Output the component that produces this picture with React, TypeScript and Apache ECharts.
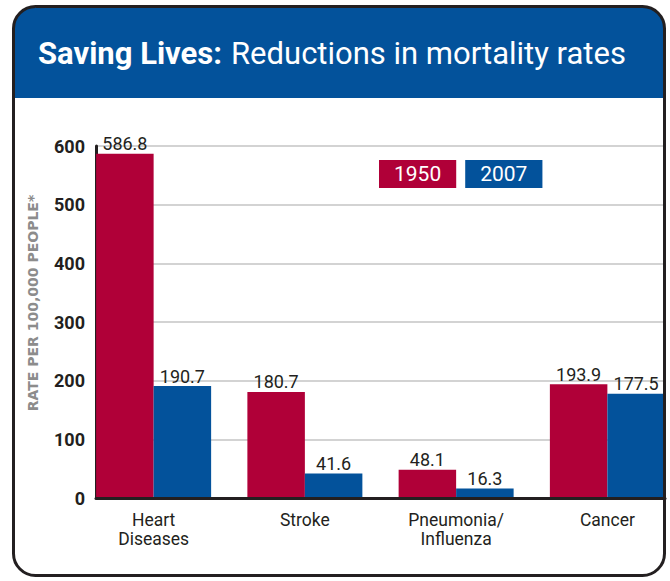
import React, { useEffect, useRef } from "react";
import * as echarts from "echarts";

const categories = ["Heart\nDiseases", "Stroke", "Pneumonia/\nInfluenza", "Cancer"];
const values1950 = [586.8, 180.7, 48.1, 193.9];
const values2007 = [190.7, 41.6, 16.3, 177.5];
const seriesNames = ["1950", "2007"];
const yMin = 0;
const yMax = 600;
const yInterval = 100;

const RED = "#b00038";
const BLUE = "#03529b";
const DARK = "#231f20";
const FONT = "Roboto, 'Open Sans', sans-serif";

export default function App() {
  const ref = useRef<HTMLDivElement>(null);
  useEffect(() => {
    if (!ref.current) return;
    const chart = echarts.init(ref.current, undefined, { renderer: "svg" });
    const top = 146;
    const height = 352;
    chart.setOption({
      animation: false,
      backgroundColor: "#ffffff",
      textStyle: { fontFamily: FONT },
      legend: {
        left: 369,
        top: 155,
        itemGap: 4,
        itemWidth: 0,
        itemHeight: 0,
        icon: "rect",
        selectedMode: false,
        data: [
          { name: seriesNames[0], textStyle: { backgroundColor: RED } },
          { name: seriesNames[1], textStyle: { backgroundColor: BLUE } },
        ],
        textStyle: {
          color: "#ffffff",
          fontSize: 21,
          fontFamily: FONT,
          padding: [3, 15, 3, 15],
          lineHeight: 22,
        },
      },
      grid: [
        { left: 78, top, width: 605, height, outerBoundsMode: "none", containLabel: false },
        { left: 96, top, width: 569, height, outerBoundsMode: "none", containLabel: false },
      ],
      xAxis: [
        {
          type: "category",
          gridIndex: 0,
          data: categories,
          axisLine: { show: false },
          axisTick: { show: false },
          axisLabel: {
            fontSize: 17.5,
            lineHeight: 19,
            color: DARK,
            margin: 12,
            fontFamily: FONT,
          },
        },
        {
          type: "category",
          gridIndex: 1,
          data: categories,
          z: 3,
          axisLine: { show: true, lineStyle: { color: DARK, width: 3 } },
          axisTick: { show: false },
          axisLabel: { show: false },
        },
      ],
      yAxis: [
        {
          type: "value",
          gridIndex: 0,
          min: yMin,
          max: yMax,
          interval: yInterval,
          axisLine: { show: false },
          axisTick: { show: false },
          axisLabel: { show: false },
          splitLine: { show: false },
        },
        {
          type: "value",
          gridIndex: 1,
          min: yMin,
          max: yMax,
          interval: yInterval,
          axisLine: { show: true, lineStyle: { color: DARK, width: 3 } },
          axisTick: { show: false },
          axisLabel: {
            fontSize: 18,
            fontWeight: "bold",
            color: DARK,
            margin: 11,
            fontFamily: FONT,
          },
          splitLine: { show: true, lineStyle: { color: "#c4c4c4", width: 1.5 } },
        },
      ],
      series: [
        {
          name: seriesNames[0],
          type: "bar",
          xAxisIndex: 0,
          yAxisIndex: 0,
          data: values1950,
          barWidth: 57.5,
          barGap: "0%",
          itemStyle: { color: RED },
          label: {
            show: true,
            position: "top",
            distance: 1,
            fontSize: 18,
            color: DARK,
            fontFamily: FONT,
            formatter: (p: any) => Number(p.value).toFixed(1),
          },
        },
        {
          name: seriesNames[1],
          type: "bar",
          xAxisIndex: 0,
          yAxisIndex: 0,
          data: values2007,
          barWidth: 57.5,
          barGap: "0%",
          itemStyle: { color: BLUE },
          label: {
            show: true,
            position: "top",
            distance: 1,
            fontSize: 18,
            color: DARK,
            fontFamily: FONT,
            formatter: (p: any) => Number(p.value).toFixed(1),
          },
        },
      ],
      graphic: [
        {
          type: "rect",
          z: 50,
          shape: { x: 13, y: 6, width: 652, height: 92, r: [22, 22, 0, 0] },
          style: { fill: BLUE },
        },
        {
          type: "text",
          z: 51,
          x: 38,
          y: 53,
          style: {
            text: "{b|Saving Lives:}{s| }{r|Reductions in mortality rates}",
            verticalAlign: "middle",
            align: "left",
            rich: {
              b: { fontSize: 31, fontWeight: "bold", fill: "#ffffff", fontFamily: FONT },
              s: { fontSize: 31, width: 9, fill: "#ffffff", fontFamily: FONT },
              r: { fontSize: 31, fontWeight: "normal", fill: "#ffffff", fontFamily: FONT },
            },
          },
        },
        {
          type: "text",
          z: 51,
          x: 33,
          y: 303,
          rotation: Math.PI / 2,
          style: {
            text: "RATE PER 100,000 PEOPLE*",
            fontSize: 14,
            fontWeight: "bold",
            fontFamily: "'DejaVu Sans', sans-serif",
            fill: "#8c8c8c",
            align: "center",
            verticalAlign: "middle",
          },
        },
        {
          type: "rect",
          z: 100,
          shape: { x: 13.5, y: 6.5, width: 651, height: 569, r: 22 },
          style: { fill: "none", stroke: DARK, lineWidth: 3 },
        },
      ],
    });
    return () => chart.dispose();
  }, []);
  return (
    <div
      ref={ref}
      style={{ position: "fixed", left: 0, top: 0, width: 670, height: 581 }}
    />
  );
}
